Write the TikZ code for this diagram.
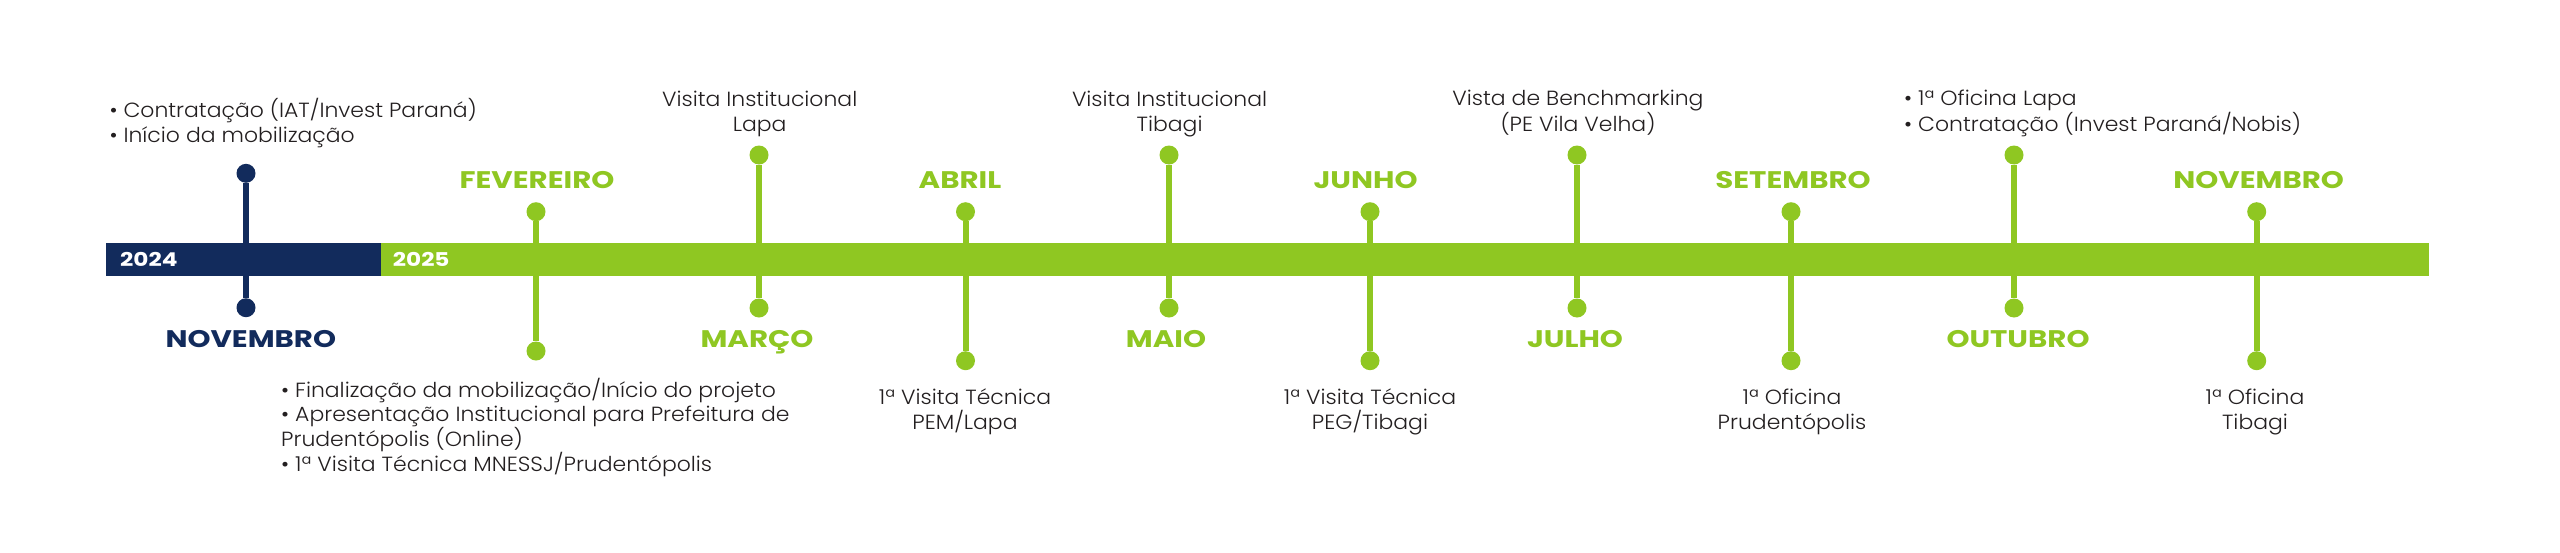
\documentclass[tikz,border=0pt]{standalone}
\usepackage{fontspec}
\newfontfamily\bodyfont{Poppins Light}[FakeStretch=1.07]
\newfontfamily\headfont{Poppins Bold}[FakeStretch=1.22]
\definecolor{navy}{HTML}{122B5C}
\definecolor{lime}{HTML}{8FC722}
\definecolor{ink}{HTML}{231F20}
\begin{document}
\begin{tikzpicture}[x=1pt,y=-1pt,
  dotn/.style={circle,inner sep=0pt,minimum size=19pt,fill=#1},
  stem/.style={line width=6pt,draw=#1},
  month/.style={font=\headfont\fontsize{24}{24}\selectfont,text=#1,inner sep=0pt,anchor=base},
  body/.style={font=\bodyfont\fontsize{20.5}{24.5}\selectfont,text=ink,inner sep=0pt},
  year/.style={font=\headfont\fontsize{19}{19}\selectfont,text=white,inner sep=0pt,anchor=base west}]
\useasboundingbox (0,0) rectangle (2560,552);
\fill[white] (0,0) rectangle (2560,552);
% bar
\fill[navy] (106,243.3) rectangle (380.7,275.7);
\fill[lime] (380.7,243.3) rectangle (2429,275.7);
\node[year] (y24) at (120,266.7) {2024};
\node[year] (y25) at (392.7,266.7) {2025};
% dots
\node[dotn=navy] (n0t) at (246,173.3) {};
\node[dotn=navy] (n0b) at (246,307.7) {};
\node[dotn=lime] (n1t) at (536,211.7) {};
\node[dotn=lime] (n1b) at (536,351) {};
\node[dotn=lime] (n2t) at (759,155) {};
\node[dotn=lime] (n2b) at (759,308) {};
\node[dotn=lime] (n3t) at (965.5,211.7) {};
\node[dotn=lime] (n3b) at (965.5,360.7) {};
\node[dotn=lime] (n4t) at (1169,155) {};
\node[dotn=lime] (n4b) at (1169,308) {};
\node[dotn=lime] (n5t) at (1370,211.7) {};
\node[dotn=lime] (n5b) at (1370,360.7) {};
\node[dotn=lime] (n6t) at (1577,155) {};
\node[dotn=lime] (n6b) at (1577,308) {};
\node[dotn=lime] (n7t) at (1791,211.7) {};
\node[dotn=lime] (n7b) at (1791,360.7) {};
\node[dotn=lime] (n8t) at (2014,155) {};
\node[dotn=lime] (n8b) at (2014,308) {};
\node[dotn=lime] (n9t) at (2256.7,211.7) {};
\node[dotn=lime] (n9b) at (2256.7,360.7) {};
% stems
\draw[stem=navy] (n0t) -- (n0b);
\foreach \i in {1,...,9} {\draw[stem=lime] (n\i t) -- (n\i b);}
% months
\node[month=navy] (m0) at (250.8,347.3) {NOVEMBRO};
\node[month=lime] (m1) at (537,188.3) {FEVEREIRO};
\node[month=lime] (m2) at (757,347.3) {MARÇO};
\node[month=lime] (m3) at (960,188.3) {ABRIL};
\node[month=lime] (m4) at (1166,347.3) {MAIO};
\node[month=lime] (m5) at (1365.5,188.3) {JUNHO};
\node[month=lime] (m6) at (1575,347.3) {JULHO};
\node[month=lime] (m7) at (1793,188.3) {SETEMBRO};
\node[month=lime] (m8) at (2018,347.3) {OUTUBRO};
\node[month=lime] (m9) at (2258.7,188.3) {NOVEMBRO};
% texts (anchor base = baseline of last line)
\node[body,anchor=base west,align=left] (t0) at (109.3,142.3) {• Contratação (IAT/Invest Paraná)\\• Início da mobilização};
\node[body,anchor=base west,align=left] (t1) at (281,471.7) {• Finalização da mobilização/Início do projeto\\• Apresentação Institucional para Prefeitura de\\Prudentópolis (Online)\\• 1ª Visita Técnica MNESSJ/Prudentópolis};
\node[body,anchor=base,align=center] (t2) at (759.7,131) {Visita Institucional\\Lapa};
\node[body,anchor=base,align=center] (t3) at (965,429.3) {1ª Visita Técnica\\PEM/Lapa};
\node[body,anchor=base,align=center] (t4) at (1169.6,131) {Visita Institucional\\Tibagi};
\node[body,anchor=base,align=center] (t5) at (1370,429.3) {1ª Visita Técnica\\PEG/Tibagi};
\node[body,anchor=base,align=center] (t6) at (1578,131) {Vista de Benchmarking\\(PE Vila Velha)};
\node[body,anchor=base,align=center] (t7) at (1792,429.3) {1ª Oficina\\Prudentópolis};
\node[body,anchor=base west,align=left] (t8) at (1904,131) {• 1ª Oficina Lapa\\• Contratação (Invest Paraná/Nobis)};
\node[body,anchor=base,align=center] (t9) at (2255,429.3) {1ª Oficina\\Tibagi};
\end{tikzpicture}
\end{document}
